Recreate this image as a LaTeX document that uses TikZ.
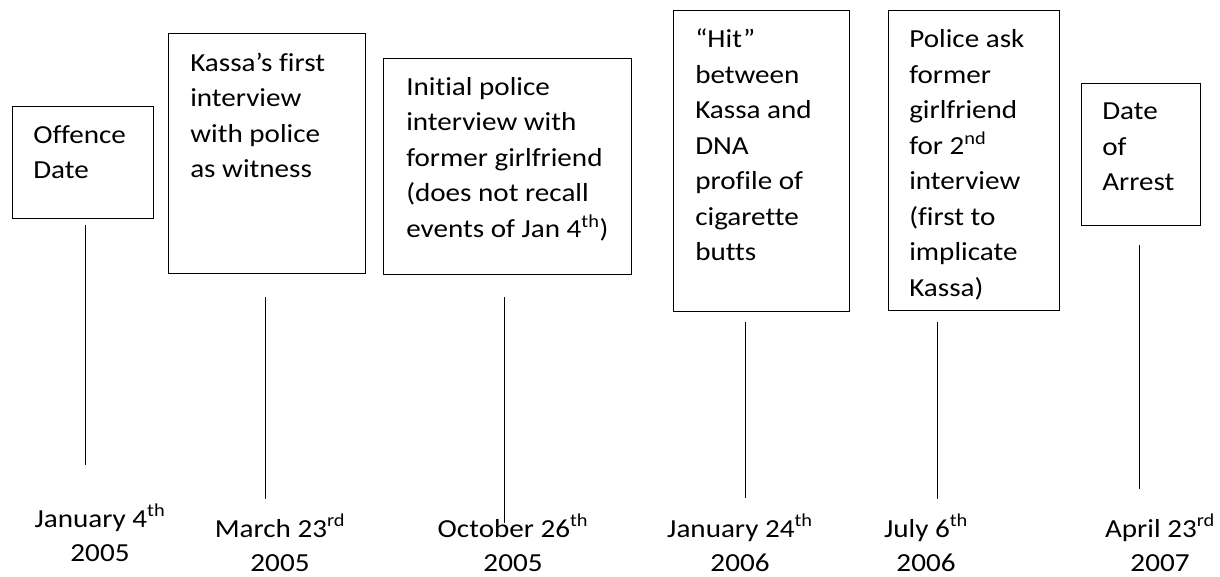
\documentclass[tikz,border=0pt]{standalone}
\usepackage{fontspec}
\setmainfont{Carlito}[Ligatures=NoCommon, FakeStretch=1.12]
\usetikzlibrary{calc}
\begin{document}
\begin{tikzpicture}[x=0.75pt,y=-0.75pt,
  box/.style={draw, line width=1.1pt, rectangle, inner sep=0pt, anchor=north west},
  txt/.style={anchor=base west, inner sep=0pt, font=\fontsize{19.5}{26.6}\selectfont},
  datelbl/.style={anchor=base, inner sep=0pt, font=\fontsize{19.5}{26.2}\selectfont},
  tick/.style={line width=0.6pt}]
\useasboundingbox (0,0) rectangle (1220,577);

% boxes
\node[box, minimum width=105.75pt, minimum height=84pt]    (b1) at (12,106) {};
\node[box, minimum width=147.75pt, minimum height=180pt]   (b2) at (168,33) {};
\node[box, minimum width=186pt,    minimum height=162pt]   (b3) at (383,58) {};
\node[box, minimum width=132pt,    minimum height=225.75pt](b4) at (673,10) {};
\node[box, minimum width=128.25pt, minimum height=225pt]   (b5) at (888,10) {};
\node[box, minimum width=89.25pt,  minimum height=106.5pt] (b6) at (1081,83) {};

% box texts
\node[txt] (t1) at ($(b1.north west)+(21,37.5)$) {\parbox[t]{200pt}{Offence\\Date}};
\node[txt] (t2) at ($(b2.north west)+(22,38.5)$) {\parbox[t]{200pt}{Kassa’s first\\interview\\with police\\as witness}};
\node[txt] (t3) at ($(b3.north west)+(23,37.5)$) {\parbox[t]{250pt}{Initial police\\interview with\\former girlfriend\\(does not recall\\events of Jan 4\textsuperscript{th})}};
\node[txt] (t4) at ($(b4.north west)+(22,38)$) {\parbox[t]{200pt}{“Hit”\\between\\Kassa and\\DNA\\profile of\\cigarette\\butts}};
\node[txt] (t5) at ($(b5.north west)+(21,38)$) {\parbox[t]{200pt}{Police ask\\former\\girlfriend\\for 2\textsuperscript{nd}\\interview\\(first to\\implicate\\Kassa)}};
\node[txt] (t6) at ($(b6.north west)+(21,37)$) {\parbox[t]{200pt}{Date\\of\\Arrest}};

% date labels
\node[datelbl] (d1) at (100,527)  {\parbox[t]{200pt}{\centering January 4\textsuperscript{th}\\2005}};
\node[datelbl] (d2) at (280,537)  {\parbox[t]{200pt}{\centering March 23\textsuperscript{rd}\\2005}};
\node[datelbl] (d3) at (513,537)  {\parbox[t]{200pt}{\centering October 26\textsuperscript{th}\\2005}};
\node[datelbl] (d4) at (740,537)  {\parbox[t]{200pt}{\centering January 24\textsuperscript{th}\\2006}};
\node[datelbl] (d5) at (926,537)  {\parbox[t]{200pt}{\centering July 6\textsuperscript{th}\\2006}};
\node[datelbl] (d6) at (1160,537) {\parbox[t]{200pt}{\centering April 23\textsuperscript{rd}\\2007}};

% tick lines
\coordinate (s1) at (85.5,225);  \coordinate (e1) at (85.5,465);
\coordinate (s2) at (265,297);   \coordinate (e2) at (265,499);
\coordinate (s3) at (504,297);   \coordinate (e3) at (504,523);
\coordinate (s4) at (745,322);   \coordinate (e4) at (745,498);
\coordinate (s5) at (937,322);   \coordinate (e5) at (937,499);
\coordinate (s6) at (1139,245);  \coordinate (e6) at (1139,489);
\foreach \i in {1,...,6} \draw[tick] (s\i) -- (e\i);
\end{tikzpicture}
\end{document}
